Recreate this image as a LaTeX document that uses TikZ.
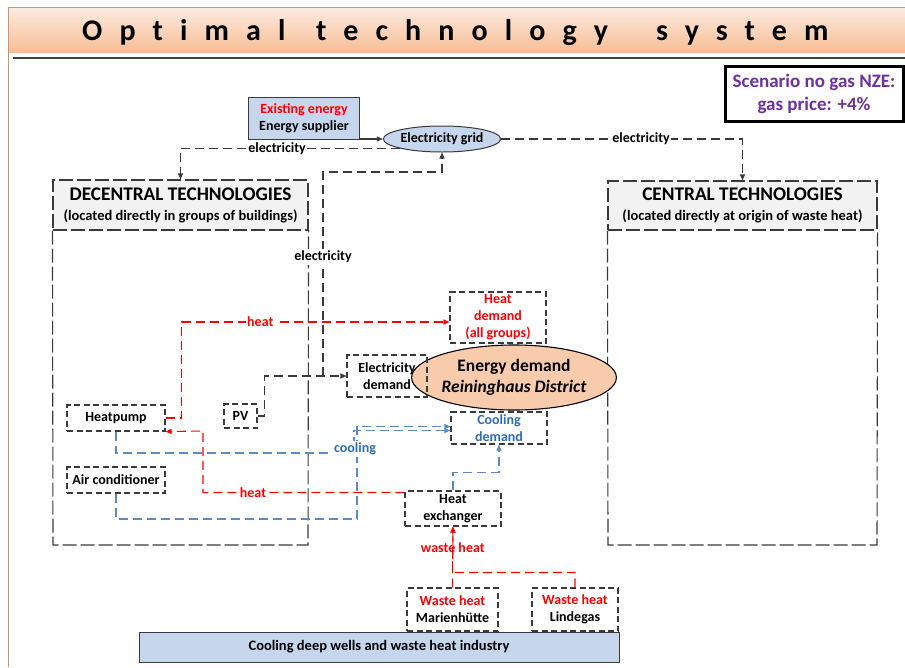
\documentclass[tikz,border=0pt]{standalone}
\usepackage{fontspec}
\setmainfont{Carlito}
\newfontfamily\titlefont[LetterSpace=57, Ligatures={NoCommon,NoRequired}]{Carlito}
\usetikzlibrary{arrows.meta,shapes.geometric,calc}

\definecolor{hdrTop}{HTML}{FDEBE0}
\definecolor{hdrBot}{HTML}{F7BE96}
\definecolor{slideEdge}{HTML}{C8966E}
\definecolor{ruleGray}{HTML}{3F3F3F}
\definecolor{lineGray}{HTML}{3A3A3A}
\definecolor{boxBlue}{HTML}{C6D6EC}
\definecolor{peach}{HTML}{F8CBAD}
\definecolor{heatRed}{HTML}{FF0000}
\definecolor{coolText}{HTML}{2E6DB4}
\definecolor{coolLine}{HTML}{5B8AC6}
\definecolor{scenPurple}{HTML}{7030A0}
\definecolor{hdrGray}{HTML}{F2F2F2}

\begin{document}
\begin{tikzpicture}[x=1pt,y=-1pt,
  txt/.style={font=\fontsize{14}{17}\selectfont\bfseries},
  conn/.style={line width=1.1pt, dash pattern=on 9pt off 5pt},
  elec/.style={conn, draw=lineGray},
  heat/.style={conn, draw=heatRed},
  cool/.style={conn, draw=coolLine},
  tip/.style={-{Triangle[length=6pt,width=5pt]}},
  dbox/.style={txt, draw=lineGray, line width=1.1pt, dash pattern=on 6pt off 3.5pt,
    inner sep=0pt, align=center},
  bigdash/.style={draw=lineGray, line width=1.1pt, dash pattern=on 14pt off 4pt},
  onlbl/.style={txt, fill=white, inner sep=1.5pt},
  bluebox/.style={txt, draw=lineGray, line width=1pt, fill=boxBlue, inner sep=0pt, align=center},
  titleword/.style={font=\titlefont\fontsize{30}{34}\selectfont\bfseries, anchor=base west, inner sep=0pt}
]
\useasboundingbox (0,0) rectangle (905,667);
\fill[white] (0,0) rectangle (905,667);

% slide frame and title band
\shade[top color=hdrTop, bottom color=hdrBot] (8,7) rectangle (905,52);
\draw[slideEdge, line width=0.8pt] (8,667) -- (8,7) -- (905,7);
\draw[ruleGray, line width=1.6pt] (13,58) -- (905,58);
\node[titleword] (titleA) at (82,40) {Optimal};
\node[titleword] (titleB) at (316,40) {technology};
\node[titleword] (titleC) at (656,40) {system};

% scenario tag
\node[draw=black, line width=3pt, minimum width=178pt, minimum height=55pt, inner sep=0pt,
  align=center, text=scenPurple, font=\fontsize{19}{23}\selectfont\bfseries]
  (scen) at (814,93.5) {Scenario no gas NZE:\\gas price: +4\%};

% technology groups
\node[bigdash, fill=hdrGray, minimum width=255pt, minimum height=50pt, inner sep=0pt, align=center]
  (dechdr) at (180.5,205) {{\fontsize{19.3}{21}\selectfont\bfseries DECENTRAL TECHNOLOGIES}\\[8pt]
  {\fontsize{14.5}{16}\selectfont\bfseries (located directly in groups of buildings)}};
\draw[bigdash] (dechdr.south west) -- (53,545) -- (308,545) -- (dechdr.south east);

\node[bigdash, fill=hdrGray, minimum width=269pt, minimum height=49pt, inner sep=0pt, align=center]
  (cenhdr) at (742.5,205.5) {{\fontsize{19.3}{21}\selectfont\bfseries CENTRAL TECHNOLOGIES}\\[8pt]
  {\fontsize{14.5}{16}\selectfont\bfseries (located directly at origin of waste heat)}};
\draw[bigdash] (cenhdr.south west) -- (608,545) -- (877,545) -- (cenhdr.south east);

% supply side
\node[bluebox, minimum width=111pt, minimum height=42pt] (supplier) at (304,118.5)
  {\textcolor{heatRed}{Existing energy}\\Energy supplier};
\node[bluebox, ellipse, minimum width=97pt, minimum height=26pt] (grid) at (442,139)
  {Electricity grid};

% technologies
\node[dbox, minimum width=98pt, minimum height=26pt] (hp) at (116,418) {Heatpump};
\node[dbox, minimum width=98pt, minimum height=26pt] (ac) at (116,480) {Air conditioner};
\node[dbox, minimum width=33pt, minimum height=24pt] (pv) at (240.5,416) {PV};
\node[dbox, minimum width=96pt, minimum height=35pt] (hx) at (453,508.5) {Heat\\exchanger};

% demands
\node[draw=black, line width=1.1pt, fill=peach, ellipse, minimum width=172pt, minimum height=65pt,
  inner sep=0pt, align=center, font=\fontsize{17.5}{21}\selectfont\bfseries]
  (edem) at (514,377.5) {Energy demand\\\itshape Reininghaus District};
\node[dbox, text=heatRed, minimum width=96pt, minimum height=51pt] (hdem) at (498,317.5)
  {Heat\\demand\\(all groups)};
\node[dbox, minimum width=80pt, minimum height=42pt] (eldem) at (387,376) {Electricity\\demand};
\node[dbox, text=coolText, minimum width=96pt, minimum height=32pt] (cdem) at (499,428)
  {Cooling\\demand};

% waste heat sources
\node[bluebox, minimum width=480pt, minimum height=30pt, font=\fontsize{14.5}{17}\selectfont\bfseries]
  (wells) at (379,647) {Cooling deep wells and waste heat industry};
\node[dbox, minimum width=91pt, minimum height=43pt] (mh) at (452.5,609.5)
  {\textcolor{heatRed}{Waste heat}\\Marienhütte};
\node[dbox, minimum width=86pt, minimum height=43pt] (lg) at (575,609.5)
  {\textcolor{heatRed}{Waste heat}\\Lindegas};

% electricity flows
\draw[line width=1.1pt, draw=lineGray, tip] (supplier.east |- grid.west) -- (grid.west);
\draw[elec, tip] (grid.east) -| (cenhdr.north)
  node[onlbl, pos=0.29] {electricity};
\draw[elec, tip] (grid.south west) -| (dechdr.north)
  node[onlbl, pos=0.28] {electricity};
\draw[elec, tip] (pv.east) -- ++(7,0) |- (eldem.west);
\coordinate (pvtap) at (323,376);
\draw[elec, tip] (pvtap) -- (323,172) -| (grid.south);
\node[onlbl] (ellbl) at (323,257) {electricity};

% heat flows
\draw[heat, tip] (hp.east) -- ++(16,0) |- ([yshift=-4.5pt]hdem.west)
  node[onlbl, text=heatRed, pos=0.647] {heat};
\coordinate (hpturn) at (203,431);
\draw[heat, tip] ([yshift=-2pt]hx.north west) -| (hpturn) -- (hp.south east);
\node[onlbl, text=heatRed] (heatlbl) at (253,493) {heat};

% cooling flows
\coordinate (coolA) at (354,453);
\coordinate (coolB) at (357,519);
\draw[cool, tip] (ac.south) |- (coolB) |- ([yshift=1.5pt]cdem.west);
\draw[cool, tip] (hp.south) |- (coolA) |- ([yshift=-2.5pt]cdem.west);
\node[onlbl, text=coolText] (coollbl) at (355,449) {cooling};
\draw[cool, tip] (hx.north) -- ++(0,-18) -| (cdem.south);

% waste heat into the exchanger
\draw[heat, tip] (lg.north) |- ($(mh.north)+(0,-15)$) -- (hx.south);
\draw[heat, tip] (mh.north) -- (hx.south)
  node[txt, text=heatRed, pos=0.66] {waste heat};
\end{tikzpicture}
\end{document}
